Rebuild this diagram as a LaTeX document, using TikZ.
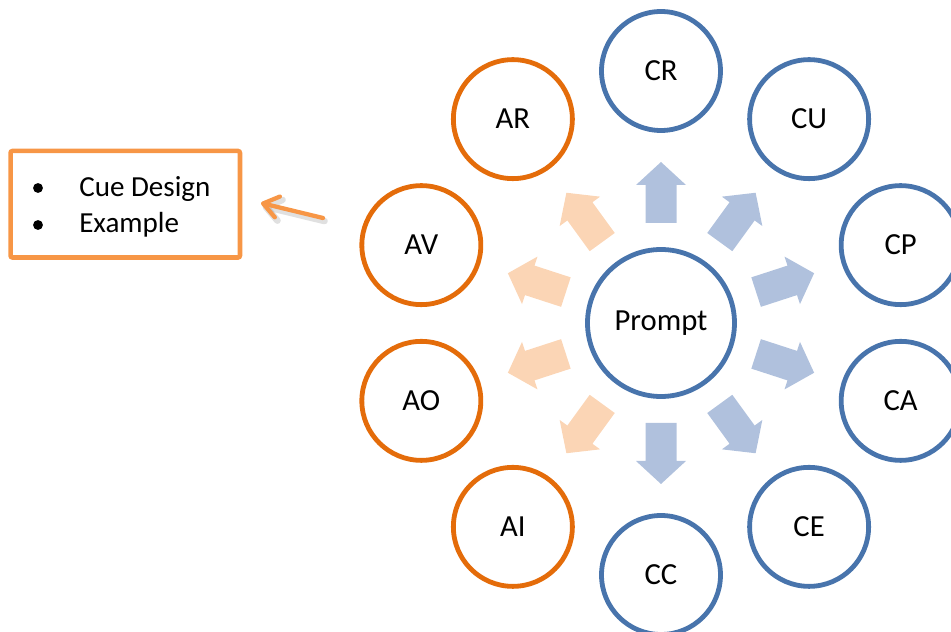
\documentclass[tikz,border=0pt]{standalone}
\usepackage{fontspec}
\setmainfont{Carlito}
\usetikzlibrary{arrows.meta,calc}
\definecolor{cblue}{HTML}{4874AC}
\definecolor{corange}{HTML}{E46C0A}
\definecolor{ablue}{HTML}{B0C1DD}
\definecolor{aorange}{HTML}{FBD5B5}
\definecolor{boxorange}{HTML}{F79646}
\begin{document}
\begin{tikzpicture}[x=0.75pt,y=0.75pt,
  ring/.style={circle, draw, line width=3.6pt, minimum size=89.25pt, inner sep=0pt,
               fill=white, font=\fontsize{23}{27}\selectfont},
  cring/.style={ring, draw=cblue},
  aring/.style={ring, draw=corange},
  hub/.style={cring, minimum size=110.25pt},
  cuebox/.style={rectangle, draw=boxorange, line width=3.4pt, rounded corners=1.5pt,
                 minimum width=172.1pt, minimum height=79.9pt, inner sep=0pt},
  cuetext/.style={anchor=base west, inner sep=0pt, font=\fontsize{21.8}{26}\selectfont},
  bullet/.style={circle, fill=black, minimum size=7.4pt, inner sep=0pt},
  pointer/.style={draw=boxorange, line width=3.2pt, line cap=round,
                  -{Straight Barb[round, length=11pt, width=16pt]}},
  pointershadow/.style={draw=black, opacity=0.12, line width=5pt, line cap=round,
                  -{Straight Barb[round, length=11pt, width=16pt]}}
]
\useasboundingbox (0,0) rectangle (951,632);

% block arrows radiating from the centre
\foreach \a/\c in {90/ablue, 54/ablue, 18/ablue, -18/ablue, -54/ablue, -90/ablue,
                   126/aorange, 162/aorange, 198/aorange, 234/aorange}{
  \fill[\c, shift={(661,309)}, rotate=\a]
    (100,15.5) -- (138,15.5) -- (138,25) -- (161,0) -- (138,-25)
    -- (138,-15.5) -- (100,-15.5) -- cycle;
}

% centre and surrounding circles
\node[hub] (prompt) at (661,309) {Prompt};
\begin{scope}[shift={(661,309)}]
  \node[cring] (cr) at (90:252)  {CR};
  \node[cring] (cu) at (54:252)  {CU};
  \node[cring] (cp) at (18:252)  {CP};
  \node[cring] (ca) at (-18:252) {CA};
  \node[cring] (ce) at (-54:252) {CE};
  \node[cring] (cc) at (-90:252) {CC};
  \node[aring] (ai) at (234:252) {AI};
  \node[aring] (ao) at (198:252) {AO};
  \node[aring] (av) at (162:252) {AV};
  \node[aring] (ar) at (126:252) {AR};
\end{scope}

% side box with bullet list
\node[cuebox] (box) at (125.25,427.75) {};
\node[bullet] (b1) at (38,444) {};
\node[bullet] (b2) at (38,407) {};
\node[cuetext] (t1) at (79,435) {Cue Design};
\node[cuetext] (t2) at (79,399) {Example};

% pointer towards the box
\coordinate (ptail) at (323,414);
\coordinate (ptip) at (261,429);
\draw[pointershadow] ($(ptail)+(1.5,-3)$) -- ($(ptip)+(1.5,-3)$);
\draw[pointer] (ptail) -- (ptip);
\end{tikzpicture}
\end{document}
